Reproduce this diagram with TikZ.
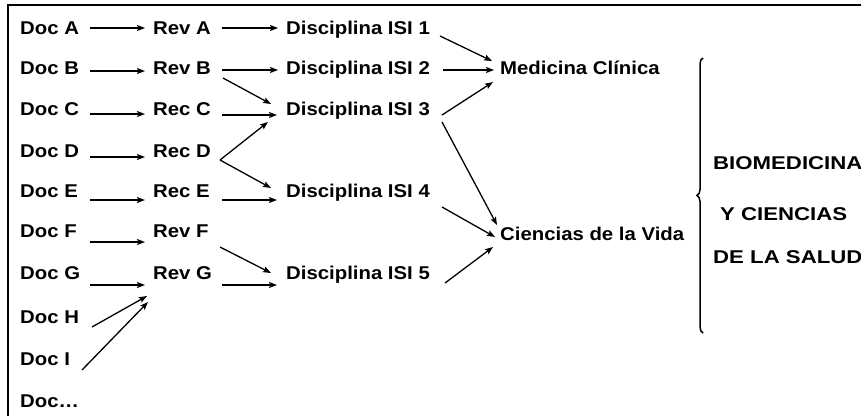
\documentclass[tikz,border=0pt]{standalone}
\usepackage{fontspec}
\setmainfont{Liberation Sans}
\usetikzlibrary{arrows.meta,calc,decorations.pathreplacing}
\newcommand{\lbl}[1]{\scalebox{1.1}[1]{\bfseries #1}}
\newcommand{\wlbl}[1]{\scalebox{1.2}[1]{\bfseries #1}}
\tikzset{
  lab/.style={anchor=base west,inner sep=0pt,font=\fontsize{18.5pt}{21pt}\selectfont},
  arr/.style={line width=1.3pt,-{Stealth[length=8pt,width=6pt,inset=1.5pt]}},
  frame/.style={line width=1.5pt},
  bracestyle/.style={line width=1.5pt,decorate,decoration={brace,amplitude=6pt,aspect=0.5}}
}
\begin{document}
\begin{tikzpicture}[x=1pt,y=-1pt]
\useasboundingbox (0,0) rectangle (861,416);
\fill[white] (0,0) rectangle (861,416);
\coordinate (fTR) at (861,5);
\coordinate (fTL) at (8,5);
\coordinate (fBL) at (8,416);
\draw[frame] (fTR) -- (fTL) -- (fBL);
% column 1
\node[lab] (docA) at (20,34) {\lbl{Doc A}};
\node[lab] (docB) at (20,74) {\lbl{Doc B}};
\node[lab] (docC) at (20,115) {\lbl{Doc C}};
\node[lab] (docD) at (20,157) {\lbl{Doc D}};
\node[lab] (docE) at (20,197) {\lbl{Doc E}};
\node[lab] (docF) at (20,237) {\lbl{Doc F}};
\node[lab] (docG) at (20,279) {\lbl{Doc G}};
\node[lab] (docH) at (20,323) {\lbl{Doc H}};
\node[lab] (docI) at (20,365) {\lbl{Doc I}};
\node[lab] (docX) at (20,407) {\lbl{Doc…}};
% column 2
\node[lab] (revA) at (153,34) {\lbl{Rev A}};
\node[lab] (revB) at (153,74) {\lbl{Rev B}};
\node[lab] (recC) at (153,115) {\lbl{Rec C}};
\node[lab] (recD) at (153,157) {\lbl{Rec D}};
\node[lab] (recE) at (153,197) {\lbl{Rec E}};
\node[lab] (revF) at (153,237) {\lbl{Rev F}};
\node[lab] (revG) at (153,279) {\lbl{Rev G}};
% column 3
\node[lab] (d1) at (286,34) {\lbl{Disciplina ISI 1}};
\node[lab] (d2) at (286,74) {\lbl{Disciplina ISI 2}};
\node[lab] (d3) at (286,115) {\lbl{Disciplina ISI 3}};
\node[lab] (d4) at (286,197) {\lbl{Disciplina ISI 4}};
\node[lab] (d5) at (286,279) {\lbl{Disciplina ISI 5}};
% column 4
\node[lab] (med) at (500,74) {\lbl{Medicina Clínica}};
\node[lab] (cien) at (500,240) {\lbl{Ciencias de la Vida}};
% right
\node[lab] (bio) at (713,169) {\wlbl{BIOMEDICINA}};
\node[lab] (ycien) at (720,220) {\wlbl{Y CIENCIAS}};
\node[lab] (dela) at (713,263) {\wlbl{DE LA SALUD}};
\coordinate (brB) at (703,333);
\coordinate (brT) at (703,58);
\draw[bracestyle] (brB) -- (brT);
% arrows col1 -> col2
\draw[arr] ($(docA.base west)+(70,-6)$) -- ($(revA.base west)+(-8,-6)$);
\draw[arr] ($(docB.base west)+(70,-3)$) -- ($(revB.base west)+(-8,-3)$);
\draw[arr] ($(docC.base west)+(70,-1)$) -- ($(recC.base west)+(-8,-1)$);
\draw[arr] ($(docD.base west)+(70,0)$) -- ($(recD.base west)+(-8,0)$);
\draw[arr] ($(docE.base west)+(70,3)$) -- ($(recE.base west)+(-8,3)$);
\draw[arr] ($(docF.base west)+(70,5)$) -- ($(revF.base west)+(-8,5)$);
\draw[arr] ($(docG.base west)+(70,6)$) -- ($(revG.base west)+(-8,6)$);
\draw[arr] ($(docH.base west)+(72,4)$) -- ($(revG.base west)+(-6,17)$);
\draw[arr] ($(docI.base west)+(62,5)$) -- ($(revG.base west)+(-5,23)$);
% col2 -> col3
\draw[arr] ($(revA.base west)+(69,-6)$) -- ($(d1.base west)+(-8,-6)$);
\draw[arr] ($(revB.base west)+(69,-4)$) -- ($(d2.base west)+(-8,-4)$);
\draw[arr] ($(revB.base west)+(70,4)$) -- ($(d3.base west)+(-15,-11)$);
\draw[arr] ($(recC.base west)+(69,0)$) -- ($(d3.base west)+(-9,0)$);
\draw[arr] ($(recD.base west)+(67,3)$) -- ($(d3.base west)+(-18,7)$);
\draw[arr] ($(recD.base west)+(67,3)$) -- ($(d4.base west)+(-15,-9)$);
\draw[arr] ($(recE.base west)+(69,3)$) -- ($(d4.base west)+(-9,3)$);
\draw[arr] ($(revF.base west)+(67,10)$) -- ($(d5.base west)+(-15,-6)$);
\draw[arr] ($(revG.base west)+(69,6)$) -- ($(d5.base west)+(-9,6)$);
% col3 -> col4
\draw[arr] ($(d1.base west)+(154,2)$) -- ($(med.base west)+(-8,-13)$);
\draw[arr] ($(d2.base west)+(157,-4)$) -- ($(med.base west)+(-6,-4)$);
\draw[arr] ($(d3.base west)+(156,0)$) -- ($(med.base west)+(-7,8)$);
\draw[arr] ($(d3.base west)+(156,7)$) -- ($(cien.base west)+(-3,-15)$);
\draw[arr] ($(d4.base west)+(156,10)$) -- ($(cien.base west)+(-5,-3)$);
\draw[arr] ($(d5.base west)+(159,4)$) -- ($(cien.base west)+(-7,7)$);
\end{tikzpicture}
\end{document}
